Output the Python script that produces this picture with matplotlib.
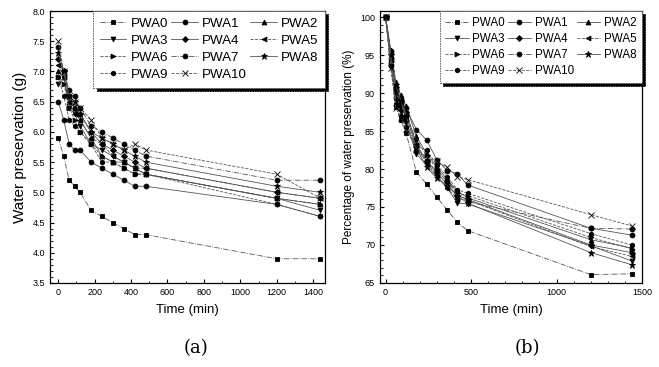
import matplotlib
matplotlib.use("Agg")
import matplotlib.pyplot as plt
from matplotlib.ticker import MultipleLocator

plt.rcParams['font.family'] = ['Liberation Sans', 'DejaVu Sans']

time_min = [0, 30, 60, 90, 120, 180, 240, 300, 360, 420, 480, 1200, 1440]
names = ["PWA0", "PWA1", "PWA2", "PWA3", "PWA4", "PWA5",
         "PWA6", "PWA7", "PWA8", "PWA9", "PWA10"]

# water preservation (g), panel (a)
water_g = [
    [5.9, 5.6, 5.2, 5.1, 5.0, 4.7, 4.6, 4.5, 4.4, 4.3, 4.3, 3.9, 3.9],
    [6.5, 6.2, 5.8, 5.7, 5.7, 5.5, 5.4, 5.3, 5.2, 5.1, 5.1, 4.8, 4.6],
    [7.0, 6.9, 6.5, 6.4, 6.2, 5.9, 5.6, 5.5, 5.5, 5.4, 5.3, 4.9, 4.8],
    [6.8, 6.9, 6.4, 6.3, 6.1, 5.8, 5.7, 5.6, 5.5, 5.4, 5.3, 4.9, 4.7],
    [7.2, 7.0, 6.6, 6.4, 6.3, 6.0, 5.8, 5.7, 5.6, 5.5, 5.4, 5.0, 4.9],
    [7.1, 6.9, 6.5, 6.3, 6.2, 5.9, 5.8, 5.6, 5.5, 5.4, 5.4, 5.0, 4.9],
    [6.9, 6.8, 6.4, 6.2, 6.0, 5.8, 5.6, 5.5, 5.4, 5.3, 5.3, 4.9, 4.8],
    [7.4, 7.0, 6.7, 6.6, 6.4, 6.1, 6.0, 5.9, 5.8, 5.7, 5.6, 5.2, 5.2],
    [7.3, 7.0, 6.6, 6.5, 6.3, 6.0, 5.9, 5.8, 5.7, 5.6, 5.5, 5.1, 5.0],
    [6.9, 6.6, 6.2, 6.1, 6.0, 5.8, 5.5, 5.5, 5.4, 5.3, 5.3, 4.8, 4.6],
    [7.5, 7.0, 6.6, 6.5, 6.4, 6.2, 5.9, 5.8, 5.7, 5.8, 5.7, 5.3, 4.9],
]

# percentage of water preservation (%), panel (b)
water_pct = [
    [100, 94.9, 88.1, 86.4, 84.7, 79.6, 78.0, 76.3, 74.6, 73.0, 71.9, 66.1, 66.2],
    [100, 95.5, 89.5, 88.0, 88.0, 85.2, 83.8, 81.2, 79.8, 79.4, 77.9, 72.2, 71.3],
    [100, 95.7, 91.5, 89.7, 88.3, 84.3, 82.0, 80.3, 78.6, 77.1, 76.2, 70.7, 69.6],
    [100, 94.0, 89.0, 87.5, 86.0, 82.0, 80.5, 79.0, 77.5, 75.5, 75.4, 69.9, 67.9],
    [100, 95.2, 90.8, 88.9, 87.5, 83.3, 81.0, 79.5, 78.0, 76.5, 76.0, 70.0, 69.0],
    [100, 94.4, 90.0, 88.6, 87.3, 83.1, 80.8, 79.2, 77.5, 76.1, 75.9, 69.8, 68.5],
    [100, 93.8, 90.2, 88.4, 86.9, 83.8, 81.8, 80.0, 78.3, 76.8, 76.5, 71.0, 69.5],
    [100, 94.6, 90.5, 89.2, 86.5, 82.4, 81.1, 79.7, 78.4, 77.0, 75.7, 72.2, 72.1],
    [100, 95.0, 91.0, 89.0, 87.0, 82.8, 80.2, 78.8, 77.8, 76.5, 75.5, 69.0, 67.4],
    [100, 93.5, 88.5, 87.0, 85.5, 83.0, 82.5, 80.5, 79.0, 77.3, 76.8, 71.5, 70.0],
    [100, 93.3, 88.0, 86.7, 85.3, 82.7, 81.5, 81.0, 80.2, 79.0, 78.6, 74.0, 72.5],
]

markers = ['s', 'o', '^', 'v', 'D', '<', '>', 'o', '*', 'h', 'x']
lstyles = ['-.', '-', '-', '-', '-', '--', '--', '-.', '-', '--', '--']


def draw(ax, data, fs):
    handles = []
    for i, name in enumerate(names):
        ms = 4.5 if markers[i] in ('*', 'x') else 3.5
        if markers[i] == 'D':
            ms = 3
        h, = ax.plot(time_min, data[i], color='#555555', lw=0.6, ls=lstyles[i],
                     marker=markers[i], ms=ms, mfc='black', mec='black',
                     mew=0.6, label=name)
        handles.append(h)
    ax.tick_params(direction='in', which='both', labelsize=6.5,
                   top=False, right=False, length=3)
    ax.tick_params(which='minor', length=1.8)
    for s in ax.spines.values():
        s.set_linewidth(0.9)
    # legend is read row by row: PWA0 PWA1 PWA2 / PWA3 ...
    order = [0, 3, 6, 9, 1, 4, 7, 10, 2, 5, 8]
    leg = ax.legend([handles[k] for k in order], [names[k] for k in order],
                    loc='upper right', ncol=3, fontsize=fs, frameon=True,
                    fancybox=False,
                    shadow={'color': 'black', 'alpha': 1.0, 'ox': 2.5, 'oy': -2.5},
                    borderpad=0.5, handlelength=2.0, handletextpad=0.3,
                    columnspacing=0.25, labelspacing=0.35, borderaxespad=0.0)
    fr = leg.get_frame()
    fr.set_edgecolor('#555555')
    fr.set_linewidth(0.6)
    fr.set_linestyle((0, (2, 1)))
    return leg


fig = plt.figure(figsize=(6.59, 3.67), dpi=100)
ax1 = fig.add_axes([0.0759, 0.229, 0.4173, 0.741])
ax2 = fig.add_axes([0.5766, 0.229, 0.3976, 0.741])

draw(ax1, water_g, 9.6)
ax1.set_xlim(-45, 1465)
ax1.set_ylim(3.5, 8.0)
ax1.xaxis.set_major_locator(MultipleLocator(200))
ax1.xaxis.set_minor_locator(MultipleLocator(100))
ax1.yaxis.set_major_locator(MultipleLocator(0.5))
ax1.yaxis.set_minor_locator(MultipleLocator(0.1))
ax1.yaxis.set_major_formatter(plt.FormatStrFormatter('%.1f'))
ax1.set_xlabel("Time (min)", fontsize=9.5, labelpad=5)
ax1.set_ylabel("Water preservation (g)", fontsize=11, labelpad=4)

draw(ax2, water_pct, 8.4)
ax2.set_xlim(-33, 1500)
ax2.set_ylim(65, 100.8)
ax2.xaxis.set_major_locator(MultipleLocator(500))
ax2.xaxis.set_minor_locator(MultipleLocator(100))
ax2.yaxis.set_major_locator(MultipleLocator(5))
ax2.yaxis.set_minor_locator(MultipleLocator(1))
ax2.set_xlabel("Time (min)", fontsize=9.5, labelpad=5)
ax2.set_ylabel("Percentage of water preservation (%)", fontsize=8.5, labelpad=4)

fig.text(0.298, 0.052, "(a)", fontsize=13, family='DejaVu Serif',
         ha='center', va='center')
fig.text(0.800, 0.052, "(b)", fontsize=13, family='DejaVu Serif',
         ha='center', va='center')

fig.savefig("out.png", dpi=100)
